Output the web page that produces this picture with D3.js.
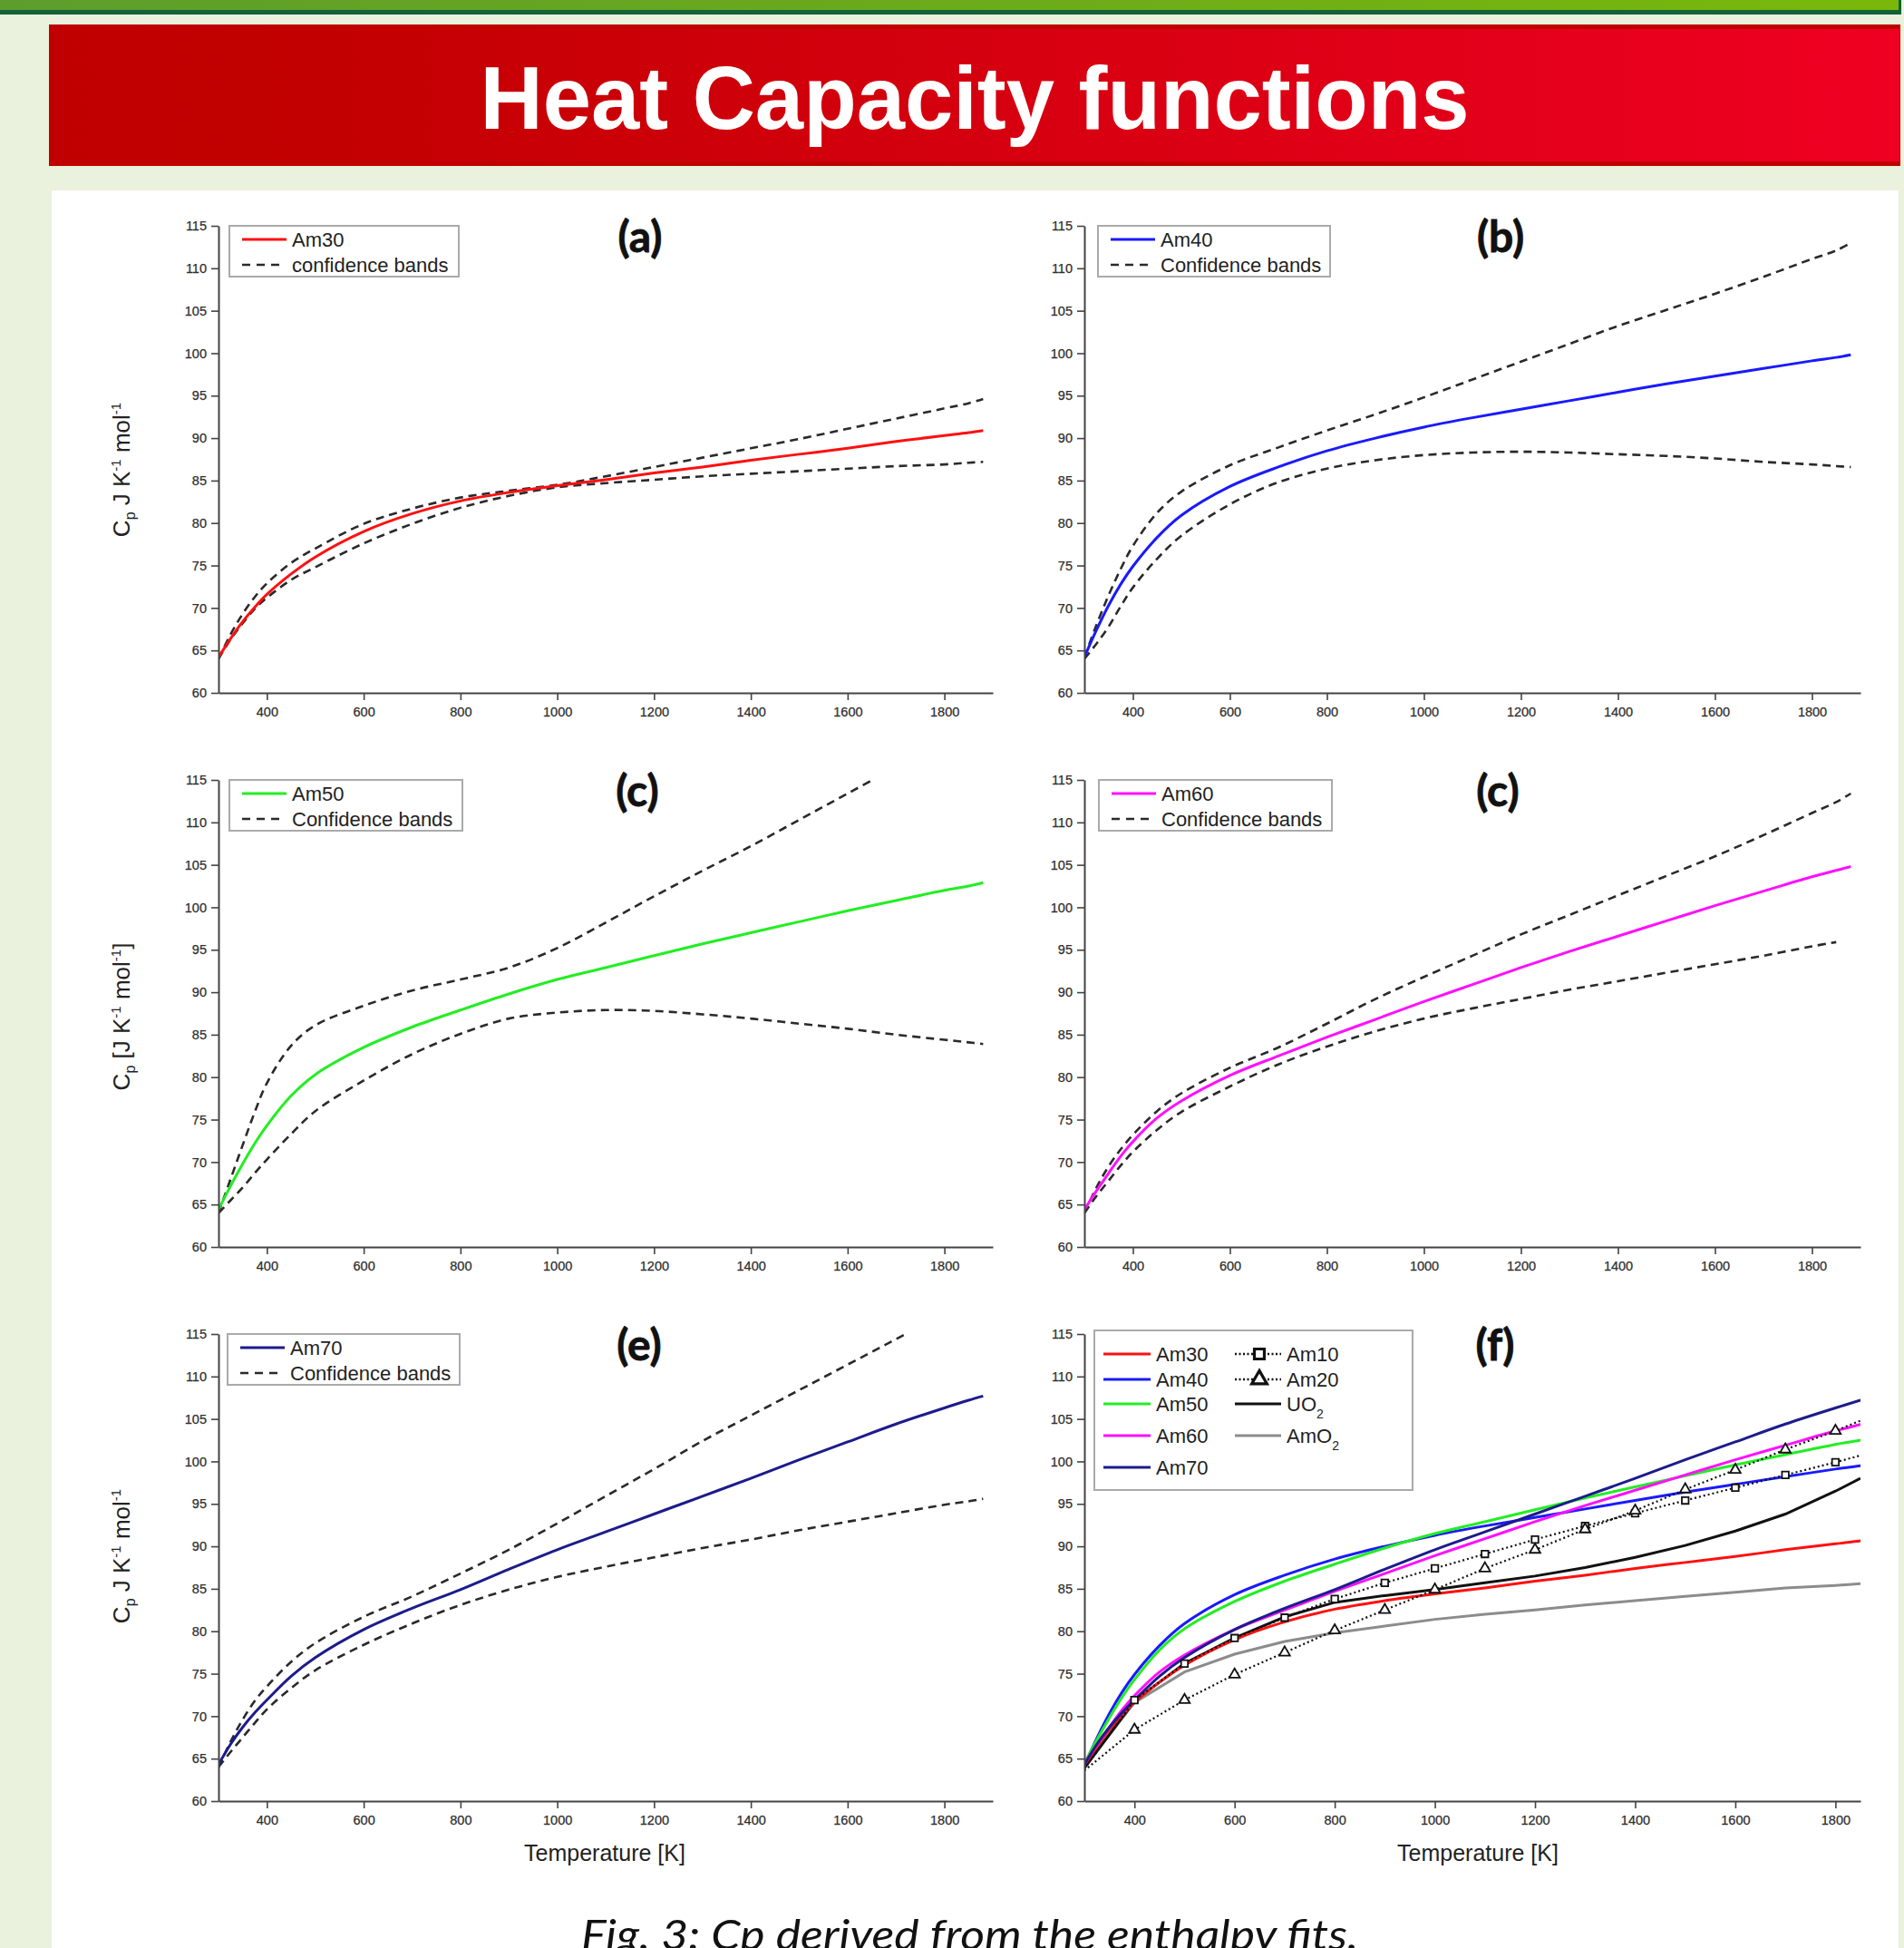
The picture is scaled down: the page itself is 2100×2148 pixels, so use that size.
<!DOCTYPE html>
<html><head><meta charset="utf-8">
<script src="https://cdn.jsdelivr.net/npm/d3@7"></script>
<style>body{margin:0;background:#eaf1dc;} svg{display:block;}</style>
</head><body><svg id="c" width="2100" height="2148"></svg>
<script>
// ---------------- DATA ----------------
const tempGrid = [300,325,350,375,400,450,500,600,700,800,900,1000,1100,1200,1300,1400,1500,1600,1700,1800,1850,1880];
const am30      = [64.2,66.4,68.4,70.1,71.6,74.0,76.0,79.0,81.1,82.6,83.6,84.4,85.1,85.9,86.6,87.4,88.1,88.8,89.6,90.3,90.65,90.9];
const am30Upper = [64.0,66.9,69.3,71.3,72.9,75.3,77.0,79.9,81.7,83.0,83.8,84.5,85.5,86.6,87.7,88.8,89.9,91.1,92.3,93.5,94.1,94.6];
const am30Lower = [64.0,66.3,68.2,69.9,71.2,73.3,74.8,77.6,79.9,81.8,83.2,84.2,84.7,85.1,85.5,85.8,86.1,86.4,86.7,86.9,87.1,87.2];
const am40      = [64.2,67.4,70.3,72.8,74.9,78.3,80.9,84.3,86.6,88.5,90.0,91.3,92.4,93.4,94.4,95.4,96.4,97.3,98.2,99.1,99.5,99.8];
const am40Upper = [64.2,68.0,71.5,74.6,77.3,81.2,83.7,86.8,88.9,90.9,92.8,94.8,96.9,99.0,101.1,103.2,105.1,107.0,109.0,111.1,112.1,113.0];
const am40Lower = [64.0,65.8,67.8,70.2,72.4,75.8,78.5,82.2,84.8,86.4,87.4,88.0,88.3,88.4,88.3,88.1,87.9,87.6,87.2,86.9,86.7,86.6];
const am50      = [64.4,67.2,69.8,72.2,74.3,77.8,80.3,83.5,85.9,87.9,89.8,91.5,92.9,94.3,95.7,97.0,98.3,99.6,100.8,102.0,102.5,102.9];
const am50Upper = [64.0,68.0,72.0,75.9,79.3,83.7,86.1,88.4,90.2,91.5,92.9,95.2,98.2,101.3,104.3,107.2,110.3,113.4,116.5,null,null,null];
const am50Lower = [64.0,65.5,67.0,68.7,70.3,73.3,76.0,79.6,82.7,85.1,86.9,87.6,87.9,87.8,87.4,86.9,86.3,85.7,85.0,84.4,84.1,83.9];
const am60      = [64.4,66.6,68.7,70.7,72.4,75.2,77.2,80.2,82.5,84.7,86.8,88.9,90.9,92.9,94.8,96.6,98.4,100.2,101.9,103.6,104.35,104.8];
const am60Upper = [64.0,67.0,69.5,71.5,73.2,76.0,78.1,81.1,83.5,86.3,89.2,91.8,94.3,96.8,99.1,101.4,103.7,106.0,108.5,111.1,112.4,113.4];
const am60Lower = [64.0,66.0,67.8,69.6,71.2,73.8,75.9,78.9,81.5,83.6,85.4,86.9,88.1,89.2,90.3,91.3,92.3,93.3,94.3,95.4,95.9,null];
const am70      = [64.3,66.7,68.7,70.4,71.9,74.7,76.9,80.2,82.7,84.9,87.3,89.6,91.7,93.8,95.9,98.0,100.2,102.3,104.4,106.3,107.2,107.7];
const am70Upper = [64.0,67.0,69.6,71.8,73.5,76.4,78.6,81.7,84.1,86.8,89.6,92.7,95.9,99.1,102.4,105.4,108.4,111.4,114.4,117.4,null,null];
const am70Lower = [64.0,65.8,67.5,69.2,70.8,73.3,75.4,78.4,80.9,83.1,84.9,86.4,87.6,88.7,89.8,90.8,91.9,92.9,93.9,94.9,95.3,95.6];

const tempRef = [300,400,500,600,700,800,900,1000,1100,1200,1300,1400,1500,1600,1700,1800,1850];
const am10 = [63.8,71.9,76.2,79.2,81.6,83.8,85.7,87.4,89.1,90.8,92.4,93.9,95.4,96.9,98.4,99.9,100.7];
const am20 = [63.6,68.4,71.9,74.9,77.5,80.1,82.5,84.9,87.4,89.6,92.0,94.2,96.7,99.0,101.4,103.6,104.8];
const uo2  = [63.9,71.8,76.2,79.2,81.7,83.4,84.2,84.9,85.7,86.5,87.5,88.7,90.1,91.8,93.8,96.5,98.0];
const amo2 = [64.0,71.6,75.2,77.3,78.8,79.8,80.6,81.4,82.0,82.5,83.1,83.6,84.1,84.6,85.1,85.4,85.6];

const xMajorTicks = [400,600,800,1000,1200,1400,1600,1800];
const yMajorTicks = [60,65,70,75,80,85,90,95,100,105,110,115];
const yMinorTicks = [62.5,67.5,72.5,77.5,82.5,87.5,92.5,97.5,102.5,107.5,112.5];
const panelLabels = ['(a)','(b)','(c)','(c)','(e)','(f)'];
const seriesNames = ['Am30','Am40','Am50','Am60','Am70'];
const refNames = ['Am10','Am20','UO2','AmO2'];

// ---------------- LAYOUT ----------------
const svg = d3.select('#c');
const defs = svg.append('defs');
const FONT = "'Liberation Sans', Arial, sans-serif";

const gGreen = defs.append('linearGradient').attr('id','gGreen');
gGreen.append('stop').attr('offset','0%').attr('stop-color','#5e9d2c');
gGreen.append('stop').attr('offset','100%').attr('stop-color','#79b80a');
const gRed = defs.append('linearGradient').attr('id','gRed');
gRed.append('stop').attr('offset','0%').attr('stop-color','#c00000');
gRed.append('stop').attr('offset','12%').attr('stop-color','#c10000');
gRed.append('stop').attr('offset','100%').attr('stop-color','#ef0022');

svg.append('rect').attr('x',0).attr('y',0).attr('width',2100).attr('height',2148).attr('fill','#eaf1dc');
svg.append('rect').attr('x',0).attr('y',0).attr('width',2097).attr('height',16).attr('fill','#11633a');
svg.append('rect').attr('x',0).attr('y',0).attr('width',2094).attr('height',11).attr('fill','url(#gGreen)');
svg.append('rect').attr('x',54).attr('y',27).attr('width',2042).attr('height',156).attr('fill','#c00000');
svg.append('rect').attr('x',55).attr('y',32).attr('width',2040).attr('height',146).attr('fill','url(#gRed)');
svg.append('text').attr('x',1075).attr('y',142).attr('text-anchor','middle')
  .attr('font-family',FONT).attr('font-weight','bold').attr('font-size',99).attr('fill','#fff')
  .attr('textLength',1091).attr('lengthAdjust','spacingAndGlyphs').text('Heat Capacity functions');
svg.append('rect').attr('x',57).attr('y',210).attr('width',2037).attr('height',1938).attr('fill','#fff');

const L = {x0:241, x1:1095}, R = {x0:1196, x1:2052};
const rows = [{yTop:249,yBot:764},{yTop:860,yBot:1375},{yTop:1471,yBot:1986}];

const panels = [
  {col:L,row:rows[0],xMax:1900,label:panelLabels[0],lx:706,main:am30,up:am30Upper,lo:am30Lower,color:'#ff1010',name:seriesNames[0],band:'confidence bands',legX:253,legW:253,yLab:'a',yLabY:518},
  {col:R,row:rows[0],xMax:1900,label:panelLabels[1],lx:1655,main:am40,up:am40Upper,lo:am40Lower,color:'#1a1aff',name:seriesNames[1],band:'Confidence bands',legX:1211,legW:256},
  {col:L,row:rows[1],xMax:1900,label:panelLabels[2],lx:703,main:am50,up:am50Upper,lo:am50Lower,color:'#22ee22',name:seriesNames[2],band:'Confidence bands',legX:253,legW:257,yLab:'c',yLabY:1121},
  {col:R,row:rows[1],xMax:1900,label:panelLabels[3],lx:1652,main:am60,up:am60Upper,lo:am60Lower,color:'#ff10ff',name:seriesNames[3],band:'Confidence bands',legX:1212,legW:257},
  {col:L,row:rows[2],xMax:1900,label:panelLabels[4],lx:705,main:am70,up:am70Upper,lo:am70Lower,color:'#1c1c8c',name:seriesNames[4],band:'Confidence bands',legX:251,legW:256,yLab:'a',yLabY:1716,xLab:667},
  {col:R,row:rows[2],xMax:1850,label:panelLabels[5],lx:1649,f:true,xLab:1630}
];

function drawAxes(p, x, y) {
  const {yBot} = p.row; const {x0} = p.col;
  const minorX = d3.range(300, p.xMax+1, 200);
  const gx = svg.append('g').attr('transform',`translate(0,${yBot})`);
  gx.call(d3.axisBottom(x).tickValues(minorX).tickSize(5).tickSizeOuter(0).tickFormat(''));
  gx.call(d3.axisBottom(x).tickValues(xMajorTicks).tickSize(8).tickSizeOuter(0).tickPadding(8).tickFormat(d3.format('d')));
  const gy = svg.append('g').attr('transform',`translate(${x0},0)`);
  gy.call(d3.axisLeft(y).tickValues(yMinorTicks).tickSize(5).tickSizeOuter(0).tickFormat(''));
  gy.call(d3.axisLeft(y).tickValues(yMajorTicks).tickSize(8).tickSizeOuter(0).tickPadding(5).tickFormat(d3.format('d')));
  [gx,gy].forEach(g=>{
    g.selectAll('path.domain').attr('stroke','#444').attr('stroke-width',2);
    g.selectAll('line').attr('stroke','#444').attr('stroke-width',1.6);
    g.selectAll('text').attr('font-family',FONT).attr('font-size',14.5).attr('fill','#2e2e2e')
      .attr('stroke','#2e2e2e').attr('stroke-width',0.25);
  });
}

function yLabel(kind, cy) {
  const t = svg.append('text').attr('transform',`translate(143,${cy}) rotate(-90)`)
    .attr('text-anchor','middle').attr('font-family',FONT).attr('font-size',26).attr('fill','#222');
  t.append('tspan').text('C');
  t.append('tspan').attr('font-size',16).attr('dy',6).text('p');
  t.append('tspan').attr('dy',-6).text(kind==='c' ? ' [J K' : ' J K');
  t.append('tspan').attr('font-size',15).attr('dy',-10).text('-1');
  t.append('tspan').attr('dy',10).text(' mol');
  t.append('tspan').attr('font-size',15).attr('dy',-10).text('-1');
  if (kind==='c') t.append('tspan').attr('dy',10).text(']');
}

const lineGen = (x,y,vals,temps,curve) => d3.line()
  .defined((d,i)=>vals[i]!==null)
  .x((d,i)=>x(temps[i])).y((d,i)=>y(vals[i])).curve(curve)(temps);

panels.forEach((p,pi)=>{
  const x = d3.scaleLinear().domain([300,p.xMax]).range([p.col.x0,p.col.x1]);
  const y = d3.scaleLinear().domain([60,115]).range([p.row.yBot,p.row.yTop]);
  const cid = 'clip'+pi;
  defs.append('clipPath').attr('id',cid).append('rect')
    .attr('x',p.col.x0).attr('y',p.row.yTop).attr('width',p.col.x1-p.col.x0).attr('height',p.row.yBot-p.row.yTop);
  const g = svg.append('g').attr('clip-path',`url(#${cid})`);
  const smooth = d3.curveCatmullRom.alpha(0.5);
  if (!p.f) {
    [p.up,p.lo].forEach(v=>{
      g.append('path').attr('d',lineGen(x,y,v,tempGrid,smooth))
        .attr('fill','none').attr('stroke','#2a2a2a').attr('stroke-width',2.6).attr('stroke-dasharray','9,6');
    });
    g.append('path').attr('d',lineGen(x,y,p.main,tempGrid,smooth))
      .attr('fill','none').attr('stroke',p.color).attr('stroke-width',3);
  } else {
    g.append('path').attr('d',lineGen(x,y,amo2,tempRef,d3.curveLinear)).attr('fill','none').attr('stroke','#8c8c8c').attr('stroke-width',3);
    g.append('path').attr('d',lineGen(x,y,uo2,tempRef,d3.curveLinear)).attr('fill','none').attr('stroke','#111').attr('stroke-width',3);
    panels.slice(0,5).forEach(q=>{
      g.append('path').attr('d',lineGen(x,y,q.main,tempGrid,smooth))
        .attr('fill','none').attr('stroke',q.color).attr('stroke-width',3);
    });
    [[am10,d3.symbolSquare],[am20,d3.symbolTriangle]].forEach(([v,sym])=>{
      g.append('path').attr('d',lineGen(x,y,v,tempRef,d3.curveLinear))
        .attr('fill','none').attr('stroke','#111').attr('stroke-width',2.2).attr('stroke-dasharray','2,3');
      tempRef.forEach((t,i)=>{
        if (t<400 || t>1800) return;
        g.append('path').attr('d',d3.symbol(sym).size(sym===d3.symbolSquare?56:60)())
          .attr('transform',`translate(${x(t)},${y(v[i])})`)
          .attr('fill','#fff').attr('stroke','#111').attr('stroke-width',1.8);
      });
    });
  }
  drawAxes(p,x,y);
  svg.append('text').attr('x',p.lx).attr('y',p.row.yTop+29).attr('text-anchor','middle')
    .attr('font-family',"Lato, 'Open Sans', sans-serif").attr('font-weight','bold').attr('font-size',48).attr('fill','#111')
    .attr('stroke','#111').attr('stroke-width',0.8).text(p.label);
  if (p.yLab) yLabel(p.yLab,p.yLabY);
  if (p.xLab) svg.append('text').attr('x',p.xLab).attr('y',p.row.yBot+66).attr('text-anchor','middle')
    .attr('font-family',FONT).attr('font-size',25).attr('fill','#222').text('Temperature [K]');
  if (!p.f) {
    const by = p.row.yTop;
    svg.append('rect').attr('x',p.legX).attr('y',by).attr('width',p.legW).attr('height',56)
      .attr('fill','#fff').attr('stroke','#aaa').attr('stroke-width',2);
    const lx0 = p.legX+14, lx1 = p.legX+63;
    svg.append('line').attr('x1',lx0).attr('x2',lx1).attr('y1',by+15).attr('y2',by+15).attr('stroke',p.color).attr('stroke-width',3);
    svg.append('line').attr('x1',lx0).attr('x2',lx0+41).attr('y1',by+43).attr('y2',by+43).attr('stroke','#2a2a2a').attr('stroke-width',2.6).attr('stroke-dasharray','9,7');
    svg.append('text').attr('x',p.legX+69).attr('y',by+23).attr('font-family',FONT).attr('font-size',22).attr('fill','#222').text(p.name);
    svg.append('text').attr('x',p.legX+69).attr('y',by+51).attr('font-family',FONT).attr('font-size',22).attr('fill','#222').text(p.band);
  } else {
    svg.append('rect').attr('x',1207).attr('y',1467).attr('width',351).attr('height',176)
      .attr('fill','#fff').attr('stroke','#aaa').attr('stroke-width',2);
    const rowsY = [1493,1521,1548,1583,1618];
    panels.slice(0,5).forEach((q,i)=>{
      svg.append('line').attr('x1',1217).attr('x2',1269).attr('y1',rowsY[i]).attr('y2',rowsY[i]).attr('stroke',q.color).attr('stroke-width',3);
      svg.append('text').attr('x',1275).attr('y',rowsY[i]+8).attr('font-family',FONT).attr('font-size',22).attr('fill','#222').text(q.name);
    });
    [[d3.symbolSquare,120],[d3.symbolTriangle,120]].forEach(([sym,sz],i)=>{
      svg.append('line').attr('x1',1362).attr('x2',1413).attr('y1',rowsY[i]).attr('y2',rowsY[i]).attr('stroke','#111').attr('stroke-width',2.4).attr('stroke-dasharray','2,2.5');
      svg.append('path').attr('d',d3.symbol(sym).size(sz)()).attr('transform',`translate(1389,${rowsY[i]})`)
        .attr('fill','#fff').attr('stroke','#111').attr('stroke-width',3.2);
    });
    svg.append('line').attr('x1',1362).attr('x2',1413).attr('y1',rowsY[2]).attr('y2',rowsY[2]).attr('stroke','#111').attr('stroke-width',3);
    svg.append('line').attr('x1',1362).attr('x2',1413).attr('y1',rowsY[3]).attr('y2',rowsY[3]).attr('stroke','#8c8c8c').attr('stroke-width',3);
    refNames.forEach((n,i)=>{
      const t = svg.append('text').attr('x',1419).attr('y',rowsY[i]+8).attr('font-family',FONT).attr('font-size',22).attr('fill','#222');
      if (n.endsWith('2')) {
        t.append('tspan').text(n.slice(0,-1));
        t.append('tspan').attr('font-size',14).attr('dy',8).text('2');
      } else t.text(n);
    });
  }
});

svg.append('text').attr('x',641).attr('y',2150).attr('font-family',"Lato, 'Open Sans', sans-serif")
  .attr('font-style','italic').attr('font-size',46).attr('fill','#111')
  .attr('textLength',857).attr('lengthAdjust','spacingAndGlyphs').text('Fig. 3: Cp derived from the enthalpy fits.');
</script></body></html>
